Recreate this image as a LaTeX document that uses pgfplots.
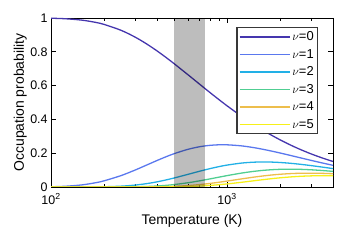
\documentclass[border=0pt]{standalone}
\usepackage{fontspec}
\setmainfont{Liberation Sans}
\usepackage{pgfplots}
\pgfplotsset{compat=1.18}
\definecolor{c0}{HTML}{4536AE}
\definecolor{c1}{HTML}{5A78EE}
\definecolor{c2}{HTML}{22B0E6}
\definecolor{c3}{HTML}{50CE92}
\definecolor{c4}{HTML}{EDBE4C}
\definecolor{c5}{HTML}{F6F018}
\begin{document}
\begin{tikzpicture}
\begin{axis}[
  scale only axis, width=282bp, height=169bp,
  xmode=log, xmin=100, xmax=4000, ymin=0, ymax=1,
  xtick={100,1000}, xticklabels={10\textsuperscript{2},10\textsuperscript{3}},
  minor xtick={200,300,400,500,600,700,800,900,2000,3000,4000},
  ytick={0,0.2,0.4,0.6,0.8,1},
  yticklabels={0,0.2,0.4,0.6,0.8,1},
  tick align=inside, major tick length=5bp, minor tick length=3bp,
  axis line style={line width=0.9pt},
  every tick/.style={black, line width=0.8pt},
  xlabel={Temperature (K)}, ylabel={Occupation probability},
  label style={font=\fontsize{14}{16}\selectfont},
  xlabel style={yshift=-5bp},
  ylabel style={yshift=-1bp},
  tick label style={font=\fontsize{12.5}{14}\selectfont, inner sep=1bp},
  xticklabel style={yshift=-5.7bp},
  yticklabel style={xshift=-2.2bp},
  legend style={at={(rel axis cs:0.948,0.945)}, anchor=north east,
    draw=black!78, line width=1.2pt, font=\fontsize{13}{15}\selectfont,
    inner sep=2pt, row sep=3pt},
  legend cell align=left,
  legend image code/.code={\draw[#1, line width=1.5pt] (0,0) -- (50bp,0);},
  every axis plot/.append style={line width=1.3pt, no marks, smooth},
]
\addplot[c0] coordinates {(100,0.99857)(120,0.99574)(150,0.98731)(180,0.97372)(200,0.96218)(250,0.92720)(300,0.88733)(350,0.84607)(400,0.80554)(450,0.76673)(500,0.73020)(600,0.66435)(700,0.60770)(800,0.55901)(900,0.51700)(1000,0.48056)(1200,0.42064)(1400,0.37366)(1600,0.33594)(1800,0.30504)(2000,0.27930)(2300,0.24784)(2600,0.22267)(3000,0.19613)(3500,0.17067)(4000,0.15105)};
\addlegendentry{$\nu$=0}
\addplot[c1] coordinates {(100,0.001428)(120,0.004243)(150,0.012532)(180,0.025592)(200,0.036389)(250,0.067503)(300,0.099975)(350,0.13023)(400,0.15664)(450,0.17886)(500,0.19701)(600,0.22299)(700,0.23840)(800,0.24652)(900,0.24971)(1000,0.24962)(1200,0.24371)(1400,0.23404)(1600,0.22308)(1800,0.21199)(2000,0.20129)(2300,0.18642)(2600,0.17309)(3000,0.15766)(3500,0.14154)(4000,0.12823)};
\addlegendentry{$\nu$=1}
\addplot[c2] coordinates {(100,0.000002)(120,0.000018)(150,0.000159)(180,0.000673)(200,0.001376)(250,0.004914)(300,0.011264)(350,0.020047)(400,0.030461)(450,0.041722)(500,0.053153)(600,0.074846)(700,0.093525)(800,0.10871)(900,0.12061)(1000,0.12966)(1200,0.14119)(1400,0.14659)(1600,0.14814)(1800,0.14733)(2000,0.14507)(2300,0.14022)(2600,0.13455)(3000,0.12674)(3500,0.11738)(4000,0.10886)};
\addlegendentry{$\nu$=2}
\addplot[c3] coordinates {(100,0)(150,0.000002)(180,0.000018)(200,0.000052)(250,0.000358)(300,0.001269)(350,0.003086)(400,0.005923)(450,0.009733)(500,0.014341)(600,0.025122)(700,0.036690)(800,0.047942)(900,0.058256)(1000,0.067352)(1200,0.081802)(1400,0.091813)(1600,0.098374)(1800,0.10239)(2000,0.10455)(2300,0.10547)(2600,0.10459)(3000,0.10188)(3500,0.097351)(4000,0.092418)};
\addlegendentry{$\nu$=3}
\addplot[c4] coordinates {(100,0)(200,0.000002)(250,0.000026)(300,0.000143)(350,0.000475)(400,0.001152)(450,0.002270)(500,0.003869)(600,0.008432)(700,0.014394)(800,0.021142)(900,0.028138)(1000,0.034985)(1200,0.047393)(1400,0.057506)(1600,0.065326)(1800,0.071156)(2000,0.075351)(2300,0.079329)(2600,0.081300)(3000,0.081899)(3500,0.080736)(4000,0.078458)};
\addlegendentry{$\nu$=4}
\addplot[c5] coordinates {(100,0)(250,0.000002)(300,0.000016)(350,0.000073)(400,0.000224)(450,0.000530)(500,0.001044)(600,0.002830)(700,0.005647)(800,0.009323)(900,0.013590)(1000,0.018173)(1200,0.027457)(1400,0.036018)(1600,0.043380)(1800,0.049451)(2000,0.054306)(2300,0.059668)(2600,0.063197)(3000,0.065836)(3500,0.066957)(4000,0.066606)};
\addlegendentry{$\nu$=5}
\addplot[forget plot, draw=none, fill=black, fill opacity=0.26, sharp plot] coordinates {(500,0)(750,0)(750,1)(500,1)} -- cycle;
\end{axis}
\pgfresetboundingbox
\path[use as bounding box] ([shift={(-51bp,-53bp)}]current axis.south west) rectangle ([shift={(16bp,18bp)}]current axis.north east);
\end{tikzpicture}
\end{document}
